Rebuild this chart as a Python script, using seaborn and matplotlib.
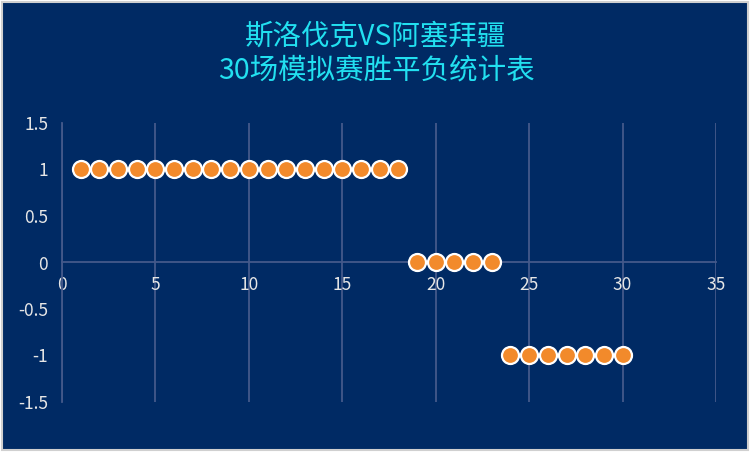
import matplotlib
matplotlib.use('Agg')
import matplotlib.pyplot as plt
import seaborn as sns
import pandas as pd
from matplotlib.patches import Rectangle

# data: game number vs result (1 = win, 0 = draw, -1 = loss)
games = list(range(1, 31))
results = [1] * 18 + [0] * 5 + [-1] * 7
x_ticks = [0, 5, 10, 15, 20, 25, 30, 35]
y_ticks = [-1.5, -1, -0.5, 0, 0.5, 1, 1.5]
y_labels = ['-1.5', '-1', '-0.5', '0', '0.5', '1', '1.5']

df = pd.DataFrame({'game': games, 'result': results})

navy = '#002A64'
grid_col = '#44598A'
text_col = '#E6E6E6'

sns.set_style('white')
plt.rcParams['font.family'] = ['Noto Sans CJK SC', 'DejaVu Sans']

fig = plt.figure(figsize=(7.52, 4.65), dpi=100, facecolor='white')
# navy chart area with thin grey border
fig.patches.append(Rectangle((2 / 752, 1 - 450 / 465), 746 / 752, 448 / 465,
                             transform=fig.transFigure, facecolor=navy,
                             edgecolor='#D0D0D0', linewidth=1.5, zorder=-10))

ax = fig.add_axes([62 / 752, 1 - 402 / 465, 654 / 752, 279 / 465])
ax.set_facecolor(navy)

sns.scatterplot(data=df, x='game', y='result', ax=ax, s=150,
                color='#F28A2B', edgecolor='white', linewidth=1.6, zorder=5,
                clip_on=False)

ax.set_xlim(0, 35)
ax.set_ylim(-1.5, 1.5)
ax.set_xticks(x_ticks)
ax.set_xticklabels([str(t) for t in x_ticks])
ax.set_yticks(y_ticks)
ax.set_yticklabels(y_labels)
ax.set_xlabel('')
ax.set_ylabel('')

ax.grid(axis='x', color=grid_col, linewidth=1.3)
ax.grid(axis='y', visible=False)

ax.spines['bottom'].set_position(('data', 0))
ax.spines['bottom'].set_color(grid_col)
ax.spines['bottom'].set_linewidth(1.3)
ax.spines['left'].set_color(grid_col)
ax.spines['left'].set_linewidth(1.3)
ax.spines['top'].set_visible(False)
ax.spines['right'].set_visible(False)

ax.tick_params(axis='x', length=0, pad=10, labelsize=12.5, labelcolor=text_col)
ax.tick_params(axis='y', length=0, pad=10, labelsize=12.5, labelcolor=text_col)

fig.text(0.5, 1 - 37 / 465, '斯洛伐克VS阿塞拜疆', ha='center', va='center',
         color='#22E0F0', fontsize=20.5)
fig.text(0.5, 1 - 71 / 465, '30场模拟赛胜平负统计表', ha='center', va='center',
         color='#22E0F0', fontsize=20.5)

fig.savefig('out.png', dpi=100, facecolor='white')
